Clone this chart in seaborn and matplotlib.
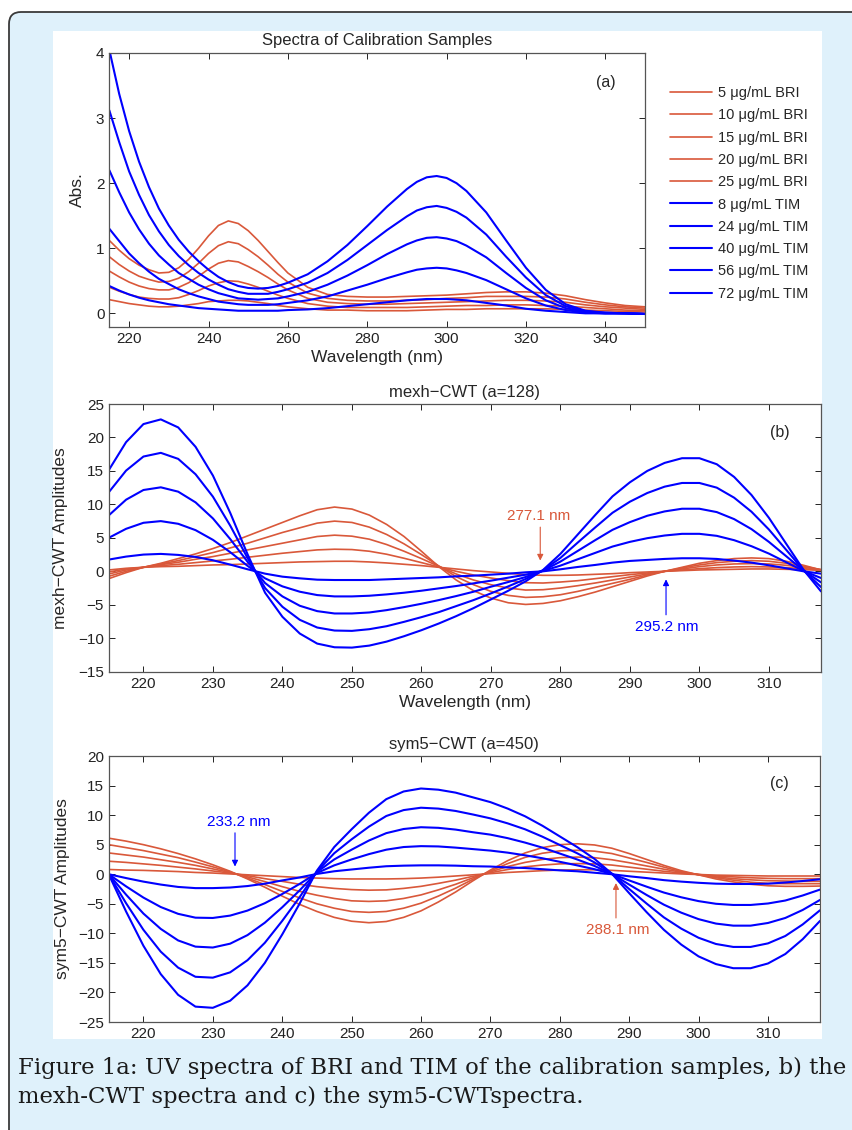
import numpy as np
import pandas as pd
import matplotlib
matplotlib.use("Agg")
import matplotlib.pyplot as plt
import seaborn as sns
from matplotlib.patches import FancyBboxPatch, Rectangle

# ---- data ----
labels = ["5 \u03bcg/mL BRI", "10 \u03bcg/mL BRI", "15 \u03bcg/mL BRI", "20 \u03bcg/mL BRI", "25 \u03bcg/mL BRI",
          "8 \u03bcg/mL TIM", "24 \u03bcg/mL TIM", "40 \u03bcg/mL TIM", "56 \u03bcg/mL TIM", "72 \u03bcg/mL TIM"]

# (a) absorbance spectra; finer steps where the curves bend
wl_a = (list(np.arange(215, 260.1, 2.5)) + [265, 270, 275, 280, 285, 290]
        + list(np.arange(292.5, 305.1, 2.5)) + list(range(310, 351, 5)))
bri5_a = [0.21, 0.18, 0.15, 0.13, 0.11, 0.1, 0.1, 0.11, 0.13, 0.15, 0.18, 0.19, 0.2, 0.2, 0.19, 0.17, 0.15, 0.12, 0.1,
          0.07, 0.05, 0.05, 0.04, 0.04, 0.04,
          0.045, 0.05, 0.055, 0.06, 0.06, 0.06,
          0.07, 0.07, 0.07, 0.07, 0.06, 0.05, 0.04, 0.03, 0.02]
bri10_a = [0.4, 0.34, 0.29, 0.25, 0.23, 0.22, 0.22, 0.24, 0.29, 0.35, 0.42, 0.47, 0.5, 0.49, 0.45, 0.4, 0.34, 0.28, 0.23,
           0.15, 0.11, 0.09, 0.09, 0.09, 0.09,
           0.095, 0.1, 0.105, 0.11, 0.115, 0.12,
           0.12, 0.13, 0.13, 0.12, 0.11, 0.09, 0.07, 0.05, 0.04]
bri15_a = [0.65, 0.56, 0.48, 0.42, 0.38, 0.36, 0.36, 0.4, 0.47, 0.57, 0.68, 0.77, 0.81, 0.79, 0.72, 0.64, 0.55, 0.45, 0.36,
           0.23, 0.17, 0.15, 0.14, 0.14, 0.15,
           0.155, 0.16, 0.165, 0.17, 0.175, 0.18,
           0.19, 0.2, 0.2, 0.19, 0.17, 0.13, 0.1, 0.08, 0.06]
bri20_a = [0.87, 0.75, 0.65, 0.57, 0.52, 0.48, 0.49, 0.54, 0.64, 0.77, 0.92, 1.04, 1.1, 1.07, 0.98, 0.87, 0.74, 0.6, 0.48,
           0.31, 0.23, 0.2, 0.19, 0.19, 0.2,
           0.205, 0.21, 0.22, 0.23, 0.235, 0.24,
           0.26, 0.26, 0.26, 0.25, 0.22, 0.17, 0.13, 0.1, 0.08]
bri25_a = [1.12, 0.97, 0.84, 0.74, 0.67, 0.62, 0.63, 0.7, 0.83, 1.0, 1.19, 1.35, 1.42, 1.38, 1.27, 1.12, 0.95, 0.78, 0.62,
           0.4, 0.29, 0.26, 0.25, 0.25, 0.26,
           0.265, 0.27, 0.275, 0.28, 0.29, 0.3,
           0.32, 0.33, 0.33, 0.31, 0.27, 0.21, 0.16, 0.12, 0.1]
tim8_a = [0.42, 0.35, 0.29, 0.24, 0.2, 0.17, 0.14, 0.12, 0.1, 0.08, 0.07, 0.06, 0.05, 0.04, 0.04, 0.04, 0.04, 0.04, 0.05,
          0.06, 0.08, 0.11, 0.14, 0.17, 0.2,
          0.21, 0.22, 0.22, 0.22, 0.21, 0.2,
          0.16, 0.12, 0.07, 0.04, 0.02, 0.0, 0.0, 0.0, -0.01]
tim24_a = [1.3, 1.11, 0.92, 0.77, 0.64, 0.53, 0.45, 0.37, 0.31, 0.26, 0.22, 0.18, 0.16, 0.14, 0.13, 0.13, 0.13, 0.14, 0.16,
           0.2, 0.26, 0.35, 0.44, 0.54, 0.63,
           0.67, 0.69, 0.7, 0.69, 0.66, 0.62,
           0.51, 0.37, 0.23, 0.12, 0.05, 0.01, 0.0, 0.0, -0.01]
tim40_a = [2.2, 1.86, 1.55, 1.29, 1.07, 0.89, 0.75, 0.62, 0.53, 0.44, 0.37, 0.31, 0.27, 0.23, 0.22, 0.21, 0.22, 0.23, 0.26,
           0.33, 0.44, 0.58, 0.74, 0.91, 1.06,
           1.12, 1.16, 1.17, 1.15, 1.11, 1.04,
           0.86, 0.62, 0.39, 0.2, 0.08, 0.02, 0.0, 0.0, -0.01]
tim56_a = [3.12, 2.63, 2.18, 1.82, 1.51, 1.26, 1.05, 0.88, 0.74, 0.62, 0.52, 0.44, 0.37, 0.33, 0.3, 0.3, 0.3, 0.33, 0.37,
           0.47, 0.62, 0.82, 1.05, 1.28, 1.49,
           1.58, 1.63, 1.65, 1.62, 1.56, 1.47,
           1.21, 0.87, 0.55, 0.28, 0.11, 0.03, 0.01, 0.0, -0.01]
tim72_a = [4.05, 3.37, 2.8, 2.33, 1.94, 1.61, 1.35, 1.13, 0.95, 0.8, 0.67, 0.56, 0.48, 0.42, 0.39, 0.38, 0.39, 0.42, 0.47,
           0.6, 0.8, 1.05, 1.34, 1.64, 1.91,
           2.02, 2.09, 2.11, 2.08, 2.0, 1.88,
           1.55, 1.12, 0.7, 0.36, 0.14, 0.04, 0.01, 0.0, -0.01]

# (b) mexh-CWT and (c) sym5-CWT, 215-317.5 nm every 2.5 nm
wl_bc = list(np.arange(215, 318, 2.5))
bri5_b = [0.2, 0.45, 0.6, 0.7, 0.75, 0.85, 0.95, 1.0, 1.1, 1.2, 1.3, 1.4, 1.45, 1.5, 1.5, 1.4, 1.25, 1.05, 0.85, 0.6, 0.35, 0.1, -0.1, -0.3, -0.5, -0.6, -0.6, -0.55, -0.45, -0.35, -0.2, -0.1, 0.0, 0.1, 0.2, 0.25, 0.3, 0.35, 0.35, 0.3, 0.25, 0.15]
bri10_b = [-0.1, 0.35, 0.6, 0.85, 1.05, 1.3, 1.55, 1.8, 2.1, 2.4, 2.7, 2.95, 3.2, 3.3, 3.25, 3.0, 2.55, 1.95, 1.3, 0.65, 0.0, -0.55, -1.0, -1.4, -1.7, -1.75, -1.6, -1.4, -1.1, -0.8, -0.5, -0.25, 0.0, 0.2, 0.4, 0.55, 0.65, 0.7, 0.65, 0.55, 0.4, 0.2]
bri15_b = [-0.4, 0.2, 0.6, 1.0, 1.35, 1.8, 2.2, 2.7, 3.2, 3.7, 4.2, 4.7, 5.2, 5.4, 5.25, 4.8, 4.0, 3.0, 1.9, 0.75, -0.4, -1.3, -2.0, -2.5, -2.8, -2.75, -2.5, -2.15, -1.75, -1.3, -0.85, -0.4, 0.0, 0.35, 0.7, 0.95, 1.1, 1.15, 1.1, 0.9, 0.6, 0.25]
bri20_b = [-0.75, 0.0, 0.6, 1.1, 1.6, 2.2, 2.8, 3.5, 4.2, 5.0, 5.8, 6.5, 7.2, 7.5, 7.3, 6.6, 5.5, 4.1, 2.5, 0.8, -0.8, -2.0, -3.0, -3.6, -3.9, -3.8, -3.5, -3.0, -2.4, -1.8, -1.2, -0.55, 0.0, 0.5, 0.95, 1.3, 1.5, 1.6, 1.5, 1.2, 0.75, 0.25]
bri25_b = [-1.1, -0.2, 0.6, 1.2, 1.9, 2.6, 3.4, 4.3, 5.3, 6.3, 7.3, 8.3, 9.2, 9.6, 9.3, 8.4, 7.0, 5.2, 3.0, 0.7, -1.3, -2.9, -4.0, -4.7, -4.95, -4.8, -4.4, -3.8, -3.1, -2.3, -1.5, -0.7, 0.0, 0.6, 1.2, 1.6, 1.9, 2.0, 1.9, 1.5, 0.9, 0.2]
tim8_b = [1.75, 2.2, 2.5, 2.6, 2.45, 2.15, 1.65, 1.0, 0.3, -0.35, -0.8, -1.05, -1.25, -1.3, -1.3, -1.3, -1.2, -1.1, -1.0, -0.9, -0.75, -0.65, -0.5, -0.35, -0.15, 0.0, 0.3, 0.65, 0.95, 1.3, 1.55, 1.7, 1.85, 1.95, 1.95, 1.85, 1.6, 1.3, 0.9, 0.45, 0.0, -0.35]
tim24_b = [5.0, 6.35, 7.25, 7.5, 7.1, 6.15, 4.7, 2.85, 0.8, -1.05, -2.25, -3.05, -3.55, -3.75, -3.75, -3.65, -3.45, -3.2, -2.9, -2.55, -2.2, -1.8, -1.4, -0.95, -0.5, 0.05, 0.85, 1.8, 2.75, 3.7, 4.4, 4.95, 5.35, 5.6, 5.6, 5.3, 4.65, 3.75, 2.65, 1.35, 0.05, -1.0]
tim40_b = [8.35, 10.7, 12.15, 12.55, 11.9, 10.3, 7.9, 4.8, 1.4, -1.75, -3.75, -5.15, -5.95, -6.3, -6.3, -6.15, -5.8, -5.35, -4.85, -4.3, -3.7, -3.05, -2.3, -1.6, -0.85, 0.1, 1.45, 3.05, 4.65, 6.2, 7.35, 8.3, 8.95, 9.35, 9.35, 8.85, 7.8, 6.3, 4.4, 2.25, 0.1, -1.65]
tim56_b = [11.8, 15.05, 17.15, 17.7, 16.8, 14.5, 11.15, 6.8, 1.95, -2.5, -5.3, -7.25, -8.4, -8.85, -8.9, -8.65, -8.2, -7.55, -6.85, -6.1, -5.2, -4.3, -3.3, -2.25, -1.15, 0.15, 2.0, 4.3, 6.55, 8.75, 10.4, 11.7, 12.65, 13.2, 13.2, 12.5, 11.0, 8.9, 6.25, 3.2, 0.15, -2.35]
tim72_b = [15.1, 19.3, 22.0, 22.7, 21.5, 18.6, 14.3, 8.7, 2.5, -3.2, -6.8, -9.3, -10.8, -11.35, -11.4, -11.1, -10.5, -9.7, -8.8, -7.8, -6.7, -5.5, -4.2, -2.9, -1.5, 0.2, 2.6, 5.5, 8.4, 11.2, 13.3, 15.0, 16.2, 16.9, 16.9, 16.0, 14.1, 11.4, 8.0, 4.1, 0.2, -3.0]

bri5_c = [0.8, 0.7, 0.65, 0.55, 0.45, 0.3, 0.2, 0.05, -0.1, -0.25, -0.4, -0.55, -0.65, -0.75, -0.8, -0.8, -0.8, -0.75, -0.65, -0.5, -0.3, -0.1, 0.1, 0.3, 0.45, 0.6, 0.7, 0.75, 0.75, 0.65, 0.5, 0.35, 0.2, 0.05, -0.05, -0.15, -0.2, -0.25, -0.3, -0.3, -0.3, -0.3]
bri10_c = [2.2, 2.0, 1.75, 1.5, 1.2, 0.9, 0.55, 0.2, -0.25, -0.75, -1.2, -1.7, -2.1, -2.4, -2.6, -2.7, -2.65, -2.4, -2.05, -1.55, -1.0, -0.35, 0.25, 0.8, 1.25, 1.55, 1.75, 1.8, 1.75, 1.55, 1.2, 0.85, 0.5, 0.2, -0.05, -0.3, -0.45, -0.6, -0.7, -0.75, -0.75, -0.75]
bri15_c = [3.6, 3.25, 2.9, 2.45, 2.0, 1.5, 0.9, 0.3, -0.45, -1.25, -2.1, -2.9, -3.55, -4.1, -4.5, -4.6, -4.5, -4.1, -3.5, -2.65, -1.7, -0.6, 0.4, 1.3, 2.0, 2.5, 2.8, 2.9, 2.8, 2.45, 1.95, 1.4, 0.85, 0.35, -0.05, -0.45, -0.75, -0.95, -1.1, -1.15, -1.2, -1.2]
bri20_c = [5.0, 4.5, 4.0, 3.4, 2.8, 2.05, 1.25, 0.4, -0.65, -1.75, -2.9, -4.0, -5.0, -5.75, -6.3, -6.45, -6.3, -5.75, -4.9, -3.7, -2.35, -0.85, 0.55, 1.8, 2.85, 3.55, 3.95, 4.05, 3.9, 3.5, 2.75, 2.0, 1.2, 0.45, -0.1, -0.6, -1.0, -1.35, -1.55, -1.6, -1.6, -1.6]
bri25_c = [6.1, 5.6, 5.0, 4.3, 3.5, 2.6, 1.6, 0.5, -0.8, -2.2, -3.7, -5.1, -6.3, -7.3, -7.95, -8.2, -8.0, -7.3, -6.2, -4.7, -3.0, -1.1, 0.7, 2.3, 3.6, 4.5, 5.0, 5.15, 4.95, 4.4, 3.5, 2.5, 1.5, 0.6, -0.1, -0.8, -1.3, -1.7, -1.95, -2.05, -2.05, -2.0]
tim8_c = [0.0, -0.65, -1.25, -1.75, -2.15, -2.35, -2.35, -2.25, -2.0, -1.6, -1.05, -0.55, 0.05, 0.5, 0.8, 1.1, 1.35, 1.45, 1.5, 1.5, 1.45, 1.35, 1.3, 1.15, 1.05, 0.85, 0.65, 0.5, 0.25, 0.0, -0.35, -0.65, -1.0, -1.25, -1.45, -1.6, -1.65, -1.65, -1.6, -1.4, -1.15, -0.85]
tim24_c = [0.0, -2.05, -3.95, -5.55, -6.7, -7.35, -7.4, -7.0, -6.15, -4.9, -3.35, -1.65, 0.2, 1.5, 2.5, 3.4, 4.15, 4.6, 4.75, 4.7, 4.5, 4.25, 4.0, 3.65, 3.2, 2.7, 2.1, 1.5, 0.85, 0.05, -1.05, -2.1, -3.1, -3.9, -4.55, -5.0, -5.2, -5.2, -4.95, -4.45, -3.6, -2.6]
tim40_c = [0.0, -3.45, -6.65, -9.25, -11.2, -12.25, -12.4, -11.75, -10.3, -8.2, -5.6, -2.75, 0.35, 2.5, 4.15, 5.7, 6.95, 7.65, 7.95, 7.85, 7.55, 7.1, 6.7, 6.1, 5.35, 4.5, 3.5, 2.5, 1.4, 0.05, -1.75, -3.5, -5.15, -6.5, -7.6, -8.35, -8.7, -8.7, -8.25, -7.4, -6.05, -4.35]
tim56_c = [0.0, -4.9, -9.4, -13.1, -15.8, -17.35, -17.5, -16.6, -14.55, -11.6, -7.9, -3.9, 0.45, 3.55, 5.9, 8.05, 9.85, 10.85, 11.25, 11.1, 10.7, 10.1, 9.45, 8.6, 7.6, 6.35, 4.95, 3.55, 2.0, 0.1, -2.5, -4.95, -7.3, -9.2, -10.75, -11.8, -12.3, -12.3, -11.7, -10.45, -8.5, -6.1]
tim72_c = [0.0, -6.3, -12.1, -16.9, -20.4, -22.4, -22.6, -21.4, -18.8, -15.0, -10.2, -5.0, 0.6, 4.6, 7.6, 10.4, 12.7, 14.0, 14.5, 14.3, 13.8, 13.0, 12.2, 11.1, 9.8, 8.2, 6.4, 4.6, 2.6, 0.1, -3.2, -6.4, -9.4, -11.9, -13.9, -15.2, -15.9, -15.9, -15.1, -13.5, -11.0, -7.9]

RED = "#d9583a"
BLUE = "#0000ff"
palette = {lab: (RED if "BRI" in lab else BLUE) for lab in labels}


def long_frame(wl, curves):
    parts = [pd.DataFrame({"wl": wl, "val": v, "sample": lab}) for lab, v in zip(labels, curves)]
    return pd.concat(parts, ignore_index=True)


df_a = long_frame(wl_a, [bri5_a, bri10_a, bri15_a, bri20_a, bri25_a, tim8_a, tim24_a, tim40_a, tim56_a, tim72_a])
df_b = long_frame(wl_bc, [bri5_b, bri10_b, bri15_b, bri20_b, bri25_b, tim8_b, tim24_b, tim40_b, tim56_b, tim72_b])
df_c = long_frame(wl_bc, [bri5_c, bri10_c, bri15_c, bri20_c, bri25_c, tim8_c, tim24_c, tim40_c, tim56_c, tim72_c])

sns.set_style("ticks")
plt.rcParams["font.family"] = ["Liberation Sans", "DejaVu Sans"]
plt.rcParams["axes.unicode_minus"] = True

W, H = 853, 1130
fig = plt.figure(figsize=(W / 100, H / 100), dpi=100, facecolor="white")

# page decoration: light blue box with rounded border and white chart area
fig.add_artist(FancyBboxPatch((0.09, -0.5), 9.0, 11.18 + 0.5, boxstyle="round,pad=0,rounding_size=0.12",
                              transform=fig.dpi_scale_trans, fc="#dff1fb", ec="#3a3a3a", lw=1.3, zorder=-10))
fig.add_artist(Rectangle((53 / W, 1 - 1039 / H), (822 - 53) / W, (1039 - 31) / H,
                         transform=fig.transFigure, fc="white", ec="none", zorder=-5))


def px_axes(left, top, right, bottom):
    return fig.add_axes([left / W, 1 - bottom / H, (right - left) / W, (bottom - top) / H])


def style(ax):
    ax.set_facecolor("white")
    ax.tick_params(direction="in", top=True, right=True, length=4, width=0.7,
                   labelsize=11, colors="#222222")
    for sp in ax.spines.values():
        sp.set_visible(True)
        sp.set_color("#555555")
        sp.set_linewidth(0.9)


def draw(ax, df):
    sns.lineplot(data=df, x="wl", y="val", hue="sample", hue_order=labels, palette=palette,
                 estimator=None, sort=False, legend=False, ax=ax)
    for ln in ax.lines:
        ln.set_linewidth(1.2 if ln.get_color() == RED else 1.5)


ax_a = px_axes(109.3, 53, 645, 327)
ax_b = px_axes(108.7, 404, 821, 671.7)
ax_c = px_axes(108.7, 756, 820, 1022)

LAB = 12.5
TIT = 12

# (a)
draw(ax_a, df_a)
style(ax_a)
ax_a.set_xlim(215, 350)
ax_a.set_ylim(-0.21, 4)
ax_a.set_xticks(range(220, 341, 20))
ax_a.set_yticks(range(0, 5))
ax_a.set_title("Spectra of Calibration Samples", fontsize=TIT, pad=6)
ax_a.set_xlabel("Wavelength (nm)", fontsize=LAB, labelpad=3)
ax_a.set_ylabel("Abs.", fontsize=LAB)
ax_a.yaxis.set_label_coords(-0.046, 0.5)
ax_a.text(340.1, 3.55, "(a)", fontsize=11.5, ha="center", va="center")
ax_a.legend(ax_a.lines[:10], labels, loc="upper left", bbox_to_anchor=(670 / W, 1 - 86 / H),
            bbox_transform=fig.transFigure, frameon=False, fontsize=10.5, handlelength=2.9,
            handletextpad=0.4, labelspacing=0.57, borderpad=0, borderaxespad=0)

# (b)
draw(ax_b, df_b)
style(ax_b)
ax_b.set_xlim(215, 317.5)
ax_b.set_ylim(-15, 25)
ax_b.set_xticks(range(220, 311, 10))
ax_b.set_yticks(range(-15, 26, 5))
ax_b.set_title("mexh\u2212CWT (a=128)", fontsize=TIT, pad=5)
ax_b.set_xlabel("Wavelength (nm)", fontsize=LAB, labelpad=3)
ax_b.set_ylabel("mexh\u2212CWT Amplitudes", fontsize=LAB)
ax_b.yaxis.set_label_coords(-0.057, 0.5)
ax_b.text(311.6, 20.7, "(b)", fontsize=11.5, ha="center", va="center")
arrow = dict(arrowstyle="-|>", lw=0.8, mutation_scale=9, shrinkA=0, shrinkB=0)
ax_b.annotate("", xy=(277.1, 1.6), xytext=(277.1, 6.6), arrowprops=dict(arrow, color=RED))
ax_b.text(276.8, 8.2, "277.1 nm", color=RED, fontsize=11, ha="center", va="center")
ax_b.annotate("", xy=(295.2, -1.2), xytext=(295.2, -6.5), arrowprops=dict(arrow, color=BLUE))
ax_b.text(295.3, -8.3, "295.2 nm", color=BLUE, fontsize=11, ha="center", va="center")

# (c)
draw(ax_c, df_c)
style(ax_c)
ax_c.set_xlim(215, 317.5)
ax_c.set_ylim(-25, 20)
ax_c.set_xticks(range(220, 311, 10))
ax_c.set_yticks(range(-25, 21, 5))
ax_c.set_title("sym5\u2212CWT (a=450)", fontsize=TIT, pad=5)
ax_c.set_xlabel("")
ax_c.set_ylabel("sym5\u2212CWT Amplitudes", fontsize=LAB)
ax_c.yaxis.set_label_coords(-0.054, 0.5)
ax_c.text(311.6, 15.4, "(c)", fontsize=11.5, ha="center", va="center")
ax_c.annotate("", xy=(233.2, 1.3), xytext=(233.2, 7.0), arrowprops=dict(arrow, color=BLUE))
ax_c.text(233.8, 8.8, "233.2 nm", color=BLUE, fontsize=11, ha="center", va="center")
ax_c.annotate("", xy=(288.1, -1.5), xytext=(288.1, -7.4), arrowprops=dict(arrow, color=RED))
ax_c.text(288.3, -9.5, "288.1 nm", color=RED, fontsize=11, ha="center", va="center")

# caption, sized so the first line spans the same width as in the reference
cap = dict(fontsize=17, family=["DejaVu Serif"], color="#1a1a1a", ha="left", va="center")
line1 = fig.text(18 / W, 1 - 1068 / H, "Figure 1a: UV spectra of BRI and TIM of the calibration samples, b) the", **cap)
line2 = fig.text(18 / W, 1 - 1097 / H, "mexh-CWT spectra and c) the sym5-CWTspectra.", **cap)
fig.canvas.draw()
width = line1.get_window_extent().width
for t in (line1, line2):
    t.set_fontsize(17 * 830 / width)

fig.savefig("out.png", dpi=100, facecolor=fig.get_facecolor())
